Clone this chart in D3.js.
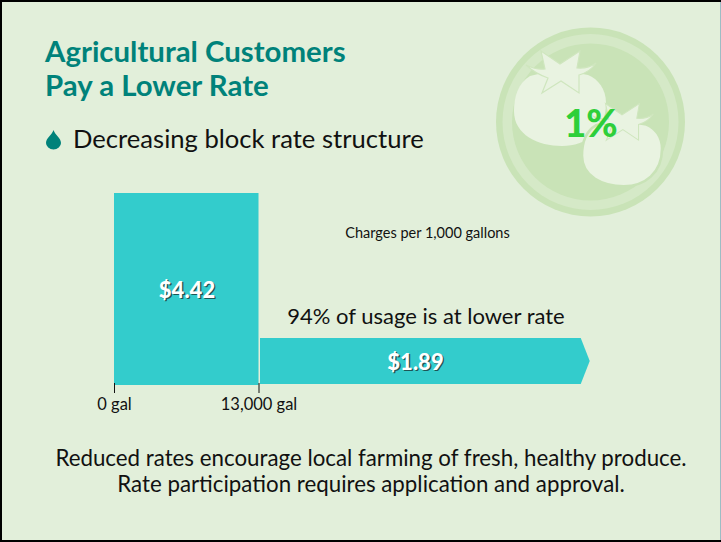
<!DOCTYPE html>
<html>
<head>
<meta charset="utf-8">
<script src="https://cdn.jsdelivr.net/npm/d3@7"></script>
<style>
  html, body { margin: 0; padding: 0; background: #e2efda; }
  svg { display: block; font-family: Lato, sans-serif; }
</style>
</head>
<body>
<div id="chart"></div>
<script>
const titleLines = ['Agricultural Customers', 'Pay a Lower Rate']
const bulletText = 'Decreasing block rate structure'
const noteLines = [
  'Reduced rates encourage local farming of fresh, healthy produce.',
  'Rate participation requires application and approval.'
]

// rate blocks
const blockStart = [0, 13000]
const blockEnd = [13000, 42800]
const blockRate = [4.42, 1.89]
const tickGallons = [0, 13000]
const shareOfRevenue = '1%'

const width = 721
const height = 542

const svg = d3
  .select('#chart')
  .append('svg')
  .attr('width', width)
  .attr('height', height)

svg
  .append('rect')
  .attr('width', width)
  .attr('height', height)
  .attr('fill', '#e2efda')

const xPositionScale = d3
  .scaleLinear()
  .domain([0, 13000])
  .range([114, 258.5])

// the slide is not drawn to scale, so the rate axis has a knee at the lower rate
const yPositionScale = d3
  .scaleLinear()
  .domain([0, 1.89, 4.42])
  .range([385, 338, 193])

// badge
const badge = svg.append('g').attr('transform', 'translate(590.5,122)')
badge.append('circle').attr('r', 94.5).attr('fill', '#c9e3b7')
badge.append('circle').attr('r', 88).attr('fill', '#d5e9c7')
badge.append('circle').attr('r', 78.5).attr('fill', '#c9e3b7')

const tomatoBody =
  'M-30,-33 C-42,-26 -46,-12 -46,2 C-46,26 -22,37 2,37 C26,37 46,22 46,-6 C46,-20 38,-30 28,-34 C10,-38 -12,-38 -30,-33 Z'
const tomatoStar =
  'M-34,-44 Q-24,-39 -15,-40 L-19,-58 L0,-45 L20,-58 L17,-41 Q28,-40 36,-46 Q30,-37 19,-34 L19,-16 L1,-28 L-18,-16 L-12,-31 Q-24,-35 -34,-44 Z'

function drawTomato(cx, cy, k, halo) {
  const g = svg
    .append('g')
    .attr('transform', 'translate(' + cx + ',' + cy + ') scale(' + k + ')')
  g.append('path')
    .attr('d', tomatoBody)
    .attr('fill', '#e9f3e1')
    .attr('stroke', '#c9e3b7')
    .attr('stroke-width', halo)
  g.append('path')
    .attr('d', tomatoStar)
    .attr('fill', '#e9f3e1')
    .attr('stroke', '#cfe6be')
    .attr('stroke-width', 1.2)
}
drawTomato(560, 109, 1, 0)
drawTomato(622, 154, 0.87, 3)

svg
  .append('text')
  .text(shareOfRevenue)
  .attr('x', 591)
  .attr('y', 137)
  .attr('text-anchor', 'middle')
  .attr('font-size', 38)
  .attr('font-weight', 900)
  .attr('fill', '#2ecf3a')

// title and bullet
svg
  .selectAll('.title')
  .data(titleLines)
  .enter()
  .append('text')
  .attr('class', 'title')
  .text(d => d)
  .attr('x', 45)
  .attr('y', (d, i) => 62 + i * 34)
  .attr('font-size', 29.4)
  .attr('font-weight', 'bold')
  .attr('fill', '#00827a')

svg
  .append('path')
  .attr('d', 'M53.5,130 C55,135 61,138 61,143 A7.5,6.5 0 0 1 46,143 C46,138 52,135 53.5,130 Z')
  .attr('fill', '#00827a')

svg
  .append('text')
  .text(bulletText)
  .attr('x', 73)
  .attr('y', 148)
  .attr('font-size', 25.6)
  .attr('fill', '#111')

svg
  .append('text')
  .text('Charges per 1,000 gallons')
  .attr('x', 427.5)
  .attr('y', 238)
  .attr('text-anchor', 'middle')
  .attr('font-size', 14.5)
  .attr('fill', '#111')

svg
  .append('text')
  .text('94% of usage is at lower rate')
  .attr('x', 426)
  .attr('y', 324)
  .attr('text-anchor', 'middle')
  .attr('font-size', 22)
  .attr('fill', '#111')

// first block is a plain bar, the second runs on as an arrow
function blockPath(i) {
  const x0 = xPositionScale(blockStart[i])
  const x1 = xPositionScale(blockEnd[i])
  const y0 = yPositionScale(blockRate[i])
  const y1 = yPositionScale(0)
  if (i === 0) {
    return [[x0, y0], [x1, y0], [x1, y1], [x0, y1]]
  }
  // 1px up and 1.5px across so the blocks do not touch
  return [
    [x0 + 1.5, y0],
    [x1 - 9, y0],
    [x1, (y0 + y1 - 1) / 2],
    [x1 - 9, y1 - 1],
    [x0 + 1.5, y1 - 1]
  ]
}

const line = d3.line().curve(d3.curveLinearClosed)

svg
  .selectAll('.block')
  .data(blockRate)
  .enter()
  .append('path')
  .attr('class', 'block')
  .attr('d', (d, i) => line(blockPath(i)))
  .attr('fill', '#33cccc')

const labelX = [187, 415.5]
const labelY = [298, 370]
const rateFormat = d3.format('$.2f')

blockRate.forEach((rate, i) => {
  ;[['#1f5555', 1.3], ['#fff', 0]].forEach(([fill, shift]) => {
    svg
      .append('text')
      .text(rateFormat(rate))
      .attr('x', labelX[i] + shift)
      .attr('y', labelY[i] + shift)
      .attr('text-anchor', 'middle')
      .attr('font-size', 22)
      .attr('font-weight', 900)
      .attr('fill', fill)
  })
})

// gallons axis
const xAxis = d3
  .axisBottom(xPositionScale)
  .tickValues(tickGallons)
  .tickSize(10)
  .tickPadding(5)
  .tickFormat(d => d3.format(',')(d) + ' gal')

const axisG = svg
  .append('g')
  .attr('class', 'axis x-axis')
  .attr('transform', 'translate(0,383)')
  .call(xAxis)

axisG.select('.domain').remove()
axisG.selectAll('line').attr('stroke', '#111').attr('stroke-width', 1)
axisG
  .selectAll('text')
  .attr('font-family', 'Lato, sans-serif')
  .attr('font-size', 16.5)
  .attr('fill', '#111')

// notes
svg
  .selectAll('.note')
  .data(noteLines)
  .enter()
  .append('text')
  .attr('class', 'note')
  .text(d => d)
  .attr('x', 371)
  .attr('y', (d, i) => 466 + i * 25.5)
  .attr('text-anchor', 'middle')
  .attr('font-size', 22.3)
  .attr('fill', '#111')

// slide border
svg.append('rect').attr('x', 0).attr('y', 0).attr('width', width).attr('height', 2).attr('fill', '#000')
svg.append('rect').attr('x', 0).attr('y', height - 2).attr('width', width).attr('height', 2).attr('fill', '#000')
svg.append('rect').attr('x', 0).attr('y', 0).attr('width', 2).attr('height', height).attr('fill', '#000')
svg.append('rect').attr('x', width - 1).attr('y', 2).attr('width', 1).attr('height', height - 4).attr('fill', '#9dbdc4')
</script>
</body>
</html>
